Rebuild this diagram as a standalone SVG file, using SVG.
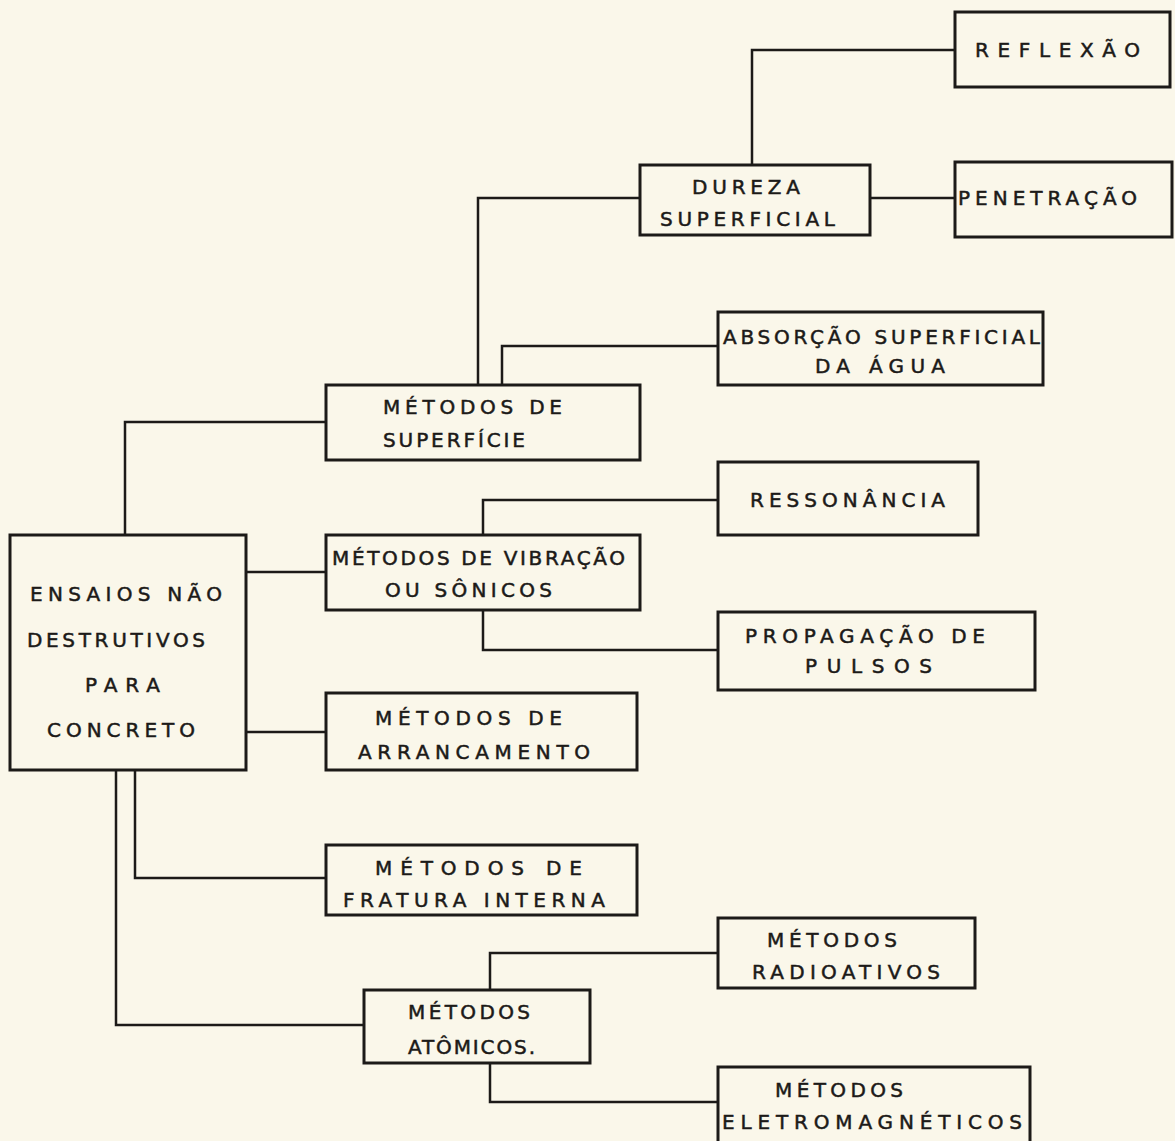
<svg xmlns="http://www.w3.org/2000/svg" width="1175" height="1141" viewBox="0 0 1175 1141">
<style>
.bg{fill:#faf7ea}
.box{fill:none;stroke:#1c1a18;stroke-width:3}
.ln{fill:none;stroke:#1c1a18;stroke-width:2.5}
text{font-family:"DejaVu Sans","Liberation Sans",Arial,sans-serif;font-size:20px;fill:#1c1a18;stroke:#1c1a18;stroke-width:0.5}
</style>
<rect class="bg" x="0" y="0" width="1175" height="1141"/>
<g id="connectors">
<polyline class="ln" points="752,165 752,50 955,50"/>
<polyline class="ln" points="870,198 955,198"/>
<polyline class="ln" points="640,198 478,198 478,385"/>
<polyline class="ln" points="502,385 502,346 718,346"/>
<polyline class="ln" points="125,535 125,422 326,422"/>
<polyline class="ln" points="246,572 326,572"/>
<polyline class="ln" points="483,535 483,500 718,500"/>
<polyline class="ln" points="483,610 483,650 718,650"/>
<polyline class="ln" points="246,732 326,732"/>
<polyline class="ln" points="135,770 135,878 326,878"/>
<polyline class="ln" points="116,770 116,1025 364,1025"/>
<polyline class="ln" points="490,990 490,953 718,953"/>
<polyline class="ln" points="490,1063 490,1102 718,1102"/>
</g>
<g id="n-reflexao"><rect class="box" x="955" y="12" width="215" height="75"/>
<text x="975" y="57" textLength="165" lengthAdjust="spacing">REFLEXÃO</text></g>
<g id="n-dureza"><rect class="box" x="640" y="165" width="230" height="70"/>
<text x="692" y="194" textLength="108" lengthAdjust="spacing">DUREZA</text>
<text x="660" y="226" textLength="175" lengthAdjust="spacing">SUPERFICIAL</text></g>
<g id="n-penetracao"><rect class="box" x="955" y="162" width="217" height="75"/>
<text x="958" y="205" textLength="179" lengthAdjust="spacing">PENETRAÇÃO</text></g>
<g id="n-absorcao"><rect class="box" x="718" y="312" width="325" height="73"/>
<text x="723" y="344" textLength="317" lengthAdjust="spacing">ABSORÇÃO SUPERFICIAL</text>
<text x="815" y="373" textLength="130" lengthAdjust="spacing">DA ÁGUA</text></g>
<g id="n-superficie"><rect class="box" x="326" y="385" width="314" height="75"/>
<text x="383" y="414" textLength="179" lengthAdjust="spacing">MÉTODOS DE</text>
<text x="383" y="447" textLength="142" lengthAdjust="spacing">SUPERFÍCIE</text></g>
<g id="n-ensaios"><rect class="box" x="10" y="535" width="236" height="235"/>
<text x="30" y="601" textLength="192" lengthAdjust="spacing">ENSAIOS NÃO</text>
<text x="27" y="647" textLength="178" lengthAdjust="spacing">DESTRUTIVOS</text>
<text x="85" y="692" textLength="75" lengthAdjust="spacing">PARA</text>
<text x="47" y="737" textLength="148" lengthAdjust="spacing">CONCRETO</text></g>
<g id="n-ressonancia"><rect class="box" x="718" y="462" width="260" height="73"/>
<text x="750" y="507" textLength="195" lengthAdjust="spacing">RESSONÂNCIA</text></g>
<g id="n-vibracao"><rect class="box" x="326" y="535" width="314" height="75"/>
<text x="332" y="565" textLength="293" lengthAdjust="spacing">MÉTODOS DE VIBRAÇÃO</text>
<text x="385" y="597" textLength="167" lengthAdjust="spacing">OU SÔNICOS</text></g>
<g id="n-propagacao"><rect class="box" x="718" y="612" width="317" height="78"/>
<text x="745" y="643" textLength="240" lengthAdjust="spacing">PROPAGAÇÃO DE</text>
<text x="805" y="673" textLength="127" lengthAdjust="spacing">PULSOS</text></g>
<g id="n-arrancamento"><rect class="box" x="326" y="693" width="311" height="77"/>
<text x="375" y="725" textLength="187" lengthAdjust="spacing">MÉTODOS DE</text>
<text x="358" y="759" textLength="232" lengthAdjust="spacing">ARRANCAMENTO</text></g>
<g id="n-fratura"><rect class="box" x="326" y="845" width="311" height="70"/>
<text x="375" y="875" textLength="207" lengthAdjust="spacing">MÉTODOS DE</text>
<text x="343" y="907" textLength="262" lengthAdjust="spacing">FRATURA INTERNA</text></g>
<g id="n-radioativos"><rect class="box" x="718" y="918" width="257" height="70"/>
<text x="767" y="947" textLength="130" lengthAdjust="spacing">MÉTODOS</text>
<text x="752" y="979" textLength="188" lengthAdjust="spacing">RADIOATIVOS</text></g>
<g id="n-atomicos"><rect class="box" x="364" y="990" width="226" height="73"/>
<text x="408" y="1019" textLength="122" lengthAdjust="spacing">MÉTODOS</text>
<text x="408" y="1054" textLength="127" lengthAdjust="spacing">ATÔMICOS.</text></g>
<g id="n-eletromagneticos"><rect class="box" x="718" y="1067" width="312" height="80"/>
<text x="775" y="1097" textLength="128" lengthAdjust="spacing">MÉTODOS</text>
<text x="722" y="1129" textLength="300" lengthAdjust="spacing">ELETROMAGNÉTICOS</text></g>
</svg>
